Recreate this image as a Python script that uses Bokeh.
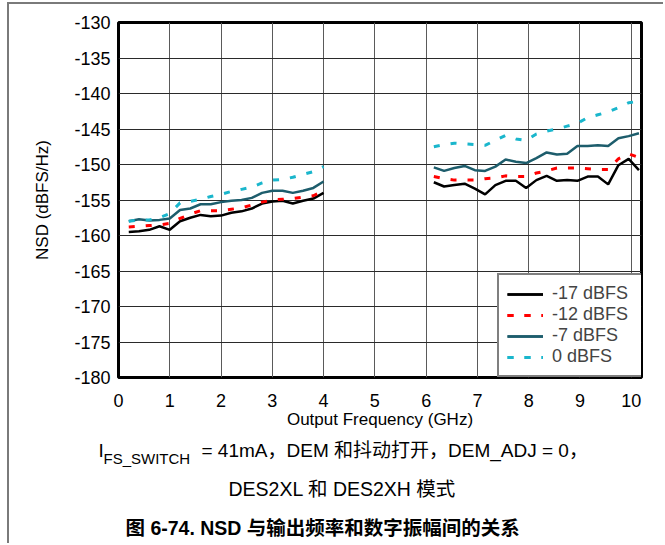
from bokeh.plotting import figure
from bokeh.layouts import column
from bokeh.models import Legend, LegendItem, FixedTicker, Range1d
from bokeh.core.properties import value
from bokeh.embed import file_html
from bokeh.resources import INLINE

# ---------------- data ----------------
freq_low = [0.2, 0.4, 0.6, 0.8, 1.0, 1.2, 1.4, 1.6, 1.8, 2.0,
            2.2, 2.4, 2.6, 2.8, 3.0, 3.2, 3.4, 3.6, 3.8, 4.0]
freq_high = [6.15, 6.35, 6.55, 6.75, 6.95, 7.15, 7.35, 7.55, 7.75, 7.95, 8.15,
             8.35, 8.55, 8.75, 8.95, 9.15, 9.35, 9.55, 9.75, 9.95, 10.15]

nsd_m17_low = [-159.5, -159.4, -159.2, -158.7, -159.2, -158.0, -157.5, -157.1, -157.3, -157.2,
               -156.8, -156.6, -156.2, -155.5, -155.2, -155.1, -155.5, -155.1, -154.8, -154.0]
nsd_m12_low = [-158.8, -158.7, -158.6, -158.5, -158.3, -157.6, -157.0, -156.5, -156.5, -156.5,
               -156.3, -156.1, -155.7, -155.3, -155.0, -154.9, -154.8, -154.6, -154.4, -153.7]
nsd_m7_low = [-158.0, -157.7, -157.9, -157.8, -157.6, -156.4, -156.2, -155.6, -155.6, -155.3,
              -155.1, -155.0, -154.7, -154.0, -153.7, -153.7, -154.0, -153.7, -153.3, -152.4]
nsd_0_low = [-158.0, -157.8, -157.8, -157.5, -156.9, -155.4, -155.2, -154.9, -154.5, -154.2,
             -153.8, -153.5, -153.2, -152.6, -152.2, -152.1, -151.8, -151.4, -151.0, -150.3]

nsd_m17_high = [-152.5, -153.1, -152.9, -152.7, -153.4, -154.2, -152.9, -152.3, -152.3, -153.3, -152.2,
                -151.6, -152.3, -152.2, -152.3, -151.7, -151.7, -152.8, -150.1, -149.2, -150.8]
nsd_m12_high = [-151.7, -152.0, -152.2, -152.2, -152.2, -152.0, -151.9, -151.6, -151.7, -151.7, -151.2,
                -150.9, -150.5, -150.5, -150.5, -150.6, -150.7, -150.7, -149.2, -148.5, -149.0]
nsd_m7_high = [-150.4, -150.9, -150.5, -150.2, -150.8, -150.9, -150.3, -149.3, -149.6, -149.8, -149.1,
               -148.3, -148.6, -148.5, -147.4, -147.4, -147.3, -147.4, -146.3, -146.0, -145.6]
nsd_0_high = [-147.5, -147.2, -147.0, -147.1, -147.2, -147.3, -146.6, -145.9, -146.4, -146.6, -145.7,
              -145.3, -145.0, -144.6, -144.2, -143.4, -143.0, -142.6, -142.0, -141.3, -141.1]

series_names = ["-17 dBFS", "-12 dBFS", "-7 dBFS", "0 dBFS"]

x_ticks = [0, 1, 2, 3, 4, 5, 6, 7, 8, 9, 10]
x_tick_labels = ["0", "1", "2", "3", "4", "5", "6", "7", "8", "9", "10"]
y_ticks = [-180, -175, -170, -165, -160, -155, -150, -145, -140, -135, -130]
y_tick_labels = ["-180", "-175", "-170", "-165", "-160", "-155", "-150", "-145", "-140", "-135", "-130"]

x_title = "Output Frequency (GHz)"
y_title = "NSD (dBFS/Hz)"
cap1_main = "I"
cap1_sub = "FS_SWITCH"
cap1_rest = "= 41mA，DEM 和抖动打开，DEM_ADJ = 0，"
cap2 = "DES2XL 和 DES2XH 模式"
cap3 = "图 6-74. NSD 与输出频率和数字振幅间的关系"

# ---------------- style ----------------
FONT = "Liberation Sans"
CJK = "Liberation Sans, Noto Sans CJK SC"
X0, X1 = 0, 10.2
Y0, Y1 = -180, -130
W = 654

p = figure(width=W, height=431, x_range=(X0, X1), y_range=(Y0, Y1),
           output_backend="svg", toolbar_location=None,
           min_border_left=109, min_border_right=22, min_border_top=18, min_border_bottom=58)

p.outline_line_color = "black"
p.outline_line_width = 3
p.background_fill_color = "white"
p.border_fill_color = "white"

p.xaxis.ticker = FixedTicker(ticks=x_ticks)
p.yaxis.ticker = FixedTicker(ticks=y_ticks)
p.xaxis.major_label_overrides = dict(zip(x_ticks, x_tick_labels))
p.yaxis.major_label_overrides = dict(zip(y_ticks, y_tick_labels))
for ax in (p.xaxis[0], p.yaxis[0]):
    ax.axis_line_color = None
    ax.major_tick_line_color = None
    ax.minor_tick_line_color = None
    ax.major_tick_out = 0
    ax.major_tick_in = 0
    ax.major_label_text_font = FONT
    ax.major_label_text_font_size = "18px"
    ax.major_label_text_color = "black"
    ax.axis_label_text_font = FONT
    ax.axis_label_text_font_size = "17px"
    ax.axis_label_text_font_style = "normal"
    ax.axis_label_text_color = "black"
p.xaxis.major_label_standoff = 16
p.yaxis.major_label_standoff = 8
p.xaxis.axis_label = x_title
p.yaxis.axis_label = y_title
p.xaxis.axis_label_standoff = 0
p.yaxis.axis_label_standoff = 19

p.xgrid.grid_line_color = "#5a5a5a"
p.ygrid.grid_line_color = "#2a2a2a"
p.xgrid.grid_line_width = 1
p.ygrid.grid_line_width = 1

styles = [
    dict(line_color="black", line_width=2.5, line_dash="solid"),
    dict(line_color="#ff0000", line_width=3, line_dash="6 11"),
    dict(line_color="#1d5d6c", line_width=2.5, line_dash="solid"),
    dict(line_color="#1ab6cc", line_width=3, line_dash="6 11"),
]
lows = [nsd_m17_low, nsd_m12_low, nsd_m7_low, nsd_0_low]
highs = [nsd_m17_high, nsd_m12_high, nsd_m7_high, nsd_0_high]

items = []
for name, st, lo, hi in zip(series_names, styles, lows, highs):
    r1 = p.line(freq_low, lo, **st)
    r2 = p.line(freq_high, hi, **st)
    items.append(LegendItem(label=name, renderers=[r1, r2]))

legend = Legend(items=items, location=(379, 0), padding=8, spacing=0,
                label_standoff=9, glyph_width=36, glyph_height=20,
                label_height=20, label_width=82, margin=0,
                border_line_color="black", border_line_width=2,
                label_text_font=FONT, label_text_font_size="18px",
                background_fill_color="white", background_fill_alpha=1)
p.add_layout(legend)

# ---------------- caption panel ----------------
QH = 108
q = figure(width=W, height=QH, x_range=(0, W), y_range=Range1d(QH, 0),
           output_backend="svg", toolbar_location=None,
           x_axis_type=None, y_axis_type=None, min_border=0)
q.grid.visible = False
q.outline_line_color = None
q.background_fill_color = "white"
q.border_fill_color = "white"
try:
    p.frame_align = False
    q.frame_align = False
except Exception:
    pass

def cap(x, y, text, size, bold=False):
    q.text(x=[x], y=[y], text=[text], text_font=value(CJK), text_font_size=value(size),
           text_align="left", text_baseline="alphabetic", text_color="black",
           text_font_style="bold" if bold else "normal")

cap(89, 15, cap1_main, "19px")
cap(94, 23, cap1_sub, "15px")
cap(192, 15, cap1_rest, "19px")
cap(219, 53, cap2, "19.5px")
cap(116, 92, cap3, "19.5px", bold=True)

layout = column(p, q, spacing=0,
                styles={"margin-left": "7px", "margin-top": "2px",
                        "border-left": "2px solid #7a7a7a",
                        "border-top": "2px solid #7a7a7a"})

open("out.html", "w").write(file_html(layout, INLINE))
